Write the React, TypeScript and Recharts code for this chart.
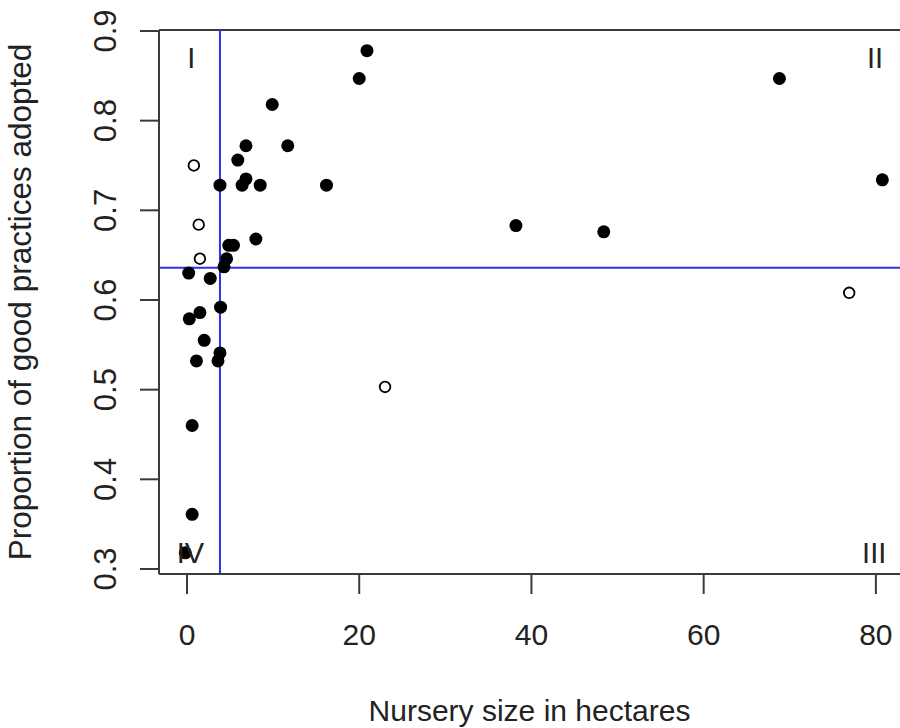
import React from 'react';
import { ScatterChart, Scatter, XAxis, YAxis, ReferenceLine, ReferenceDot, Label } from 'recharts';

// nurseries with filled markers
const filledX = [20.9, 20.0, 9.9, 6.85, 11.7, 5.9, 3.83, 6.4, 6.85, 8.5, 16.2, 8.0, 4.85, 5.4, 4.6, 4.3, 0.2, 2.7, 3.9, 1.5, 0.27, 2.0, 3.83, 3.6, 1.1, 0.6, 0.6, -0.2, 68.8, 38.2, 48.4, 80.75];
const filledY = [0.878, 0.847, 0.818, 0.772, 0.772, 0.756, 0.728, 0.728, 0.735, 0.728, 0.728, 0.668, 0.661, 0.661, 0.646, 0.637, 0.63, 0.624, 0.592, 0.586, 0.579, 0.555, 0.541, 0.532, 0.532, 0.46, 0.361, 0.318, 0.847, 0.683, 0.676, 0.734];

// nurseries with open markers
const openX = [0.8, 1.36, 1.5, 23.0, 76.9];
const openY = [0.75, 0.684, 0.646, 0.503, 0.608];

const xTicks = [0, 20, 40, 60, 80];
const yTicks = [0.3, 0.4, 0.5, 0.6, 0.7, 0.8, 0.9];

const splitX = 3.83;
const splitY = 0.636;

const quadLabels = ['I', 'II', 'III', 'IV'];
const quadX = [0.5, 79.9, 79.8, 0.4];
const quadY = [0.87, 0.87, 0.318, 0.318];

const X_DOMAIN: [number, number] = [-3.25, 82.8];
const Y_DOMAIN: [number, number] = [0.2944, 0.9011];

const FONT = '"Liberation Sans", Arial, sans-serif';
const TEXT = '#222';
const AXIS = '#3a3a3a';
const BLUE = '#2f2fef';

const filled = filledX.map((x, i) => ({ x, y: filledY[i] }));
const hollow = openX.map((x, i) => ({ x, y: openY[i] }));

const XTick = (props: any) => (
  <text x={props.x} y={props.y + 49} textAnchor="middle" fontSize={30} fontFamily={FONT} fill={TEXT}>
    {props.payload.value}
  </text>
);

const YTick = (props: any) => {
  const x = props.x - 22;
  return (
    <text
      x={x}
      y={props.y}
      transform={`rotate(-90, ${x}, ${props.y})`}
      textAnchor="middle"
      fontSize={31}
      fontFamily={FONT}
      fill={TEXT}
    >
      {props.payload.value.toFixed(1)}
    </text>
  );
};

const FilledDot = (props: any) => <circle cx={props.cx} cy={props.cy} r={6.5} fill="#000" />;
const OpenDot = (props: any) => (
  <circle cx={props.cx} cy={props.cy} r={5.3} fill="none" stroke="#000" strokeWidth={1.8} />
);

export default function App() {
  return (
    <div style={{ position: 'absolute', left: 0, top: 0, width: 900, height: 728, background: '#fff' }}>
      <ScatterChart width={900} height={728} margin={{ top: 30, right: 0, left: 39, bottom: 94 }}>
        <XAxis
          type="number"
          dataKey="x"
          domain={X_DOMAIN}
          ticks={xTicks}
          allowDataOverflow
          height={60}
          tickSize={20}
          tick={<XTick />}
          axisLine={{ stroke: AXIS, strokeWidth: 2 }}
          tickLine={{ stroke: AXIS, strokeWidth: 2 }}
        >
          <Label
            content={(p: any) => (
              <text
                x={p.viewBox.x + p.viewBox.width / 2}
                y={721}
                textAnchor="middle"
                fontSize={30}
                fontFamily={FONT}
                fill={TEXT}
              >
                Nursery size in hectares
              </text>
            )}
          />
        </XAxis>
        <YAxis
          type="number"
          dataKey="y"
          domain={Y_DOMAIN}
          ticks={yTicks}
          allowDataOverflow
          width={120}
          tickSize={19}
          tick={<YTick />}
          axisLine={{ stroke: AXIS, strokeWidth: 2 }}
          tickLine={{ stroke: AXIS, strokeWidth: 2 }}
        >
          <Label
            content={(p: any) => {
              const cy = p.viewBox.y + p.viewBox.height / 2;
              return (
                <text
                  x={31}
                  y={cy}
                  transform={`rotate(-90, 31, ${cy})`}
                  textAnchor="middle"
                  fontSize={31.5}
                  fontFamily={FONT}
                  fill={TEXT}
                >
                  Proportion of good practices adopted
                </text>
              );
            }}
          />
        </YAxis>
        <ReferenceLine y={Y_DOMAIN[1]} stroke={AXIS} strokeWidth={2} />
        <Scatter data={filled} shape={<FilledDot />} isAnimationActive={false} />
        <Scatter data={hollow} shape={<OpenDot />} isAnimationActive={false} />
        <ReferenceLine x={splitX} stroke={BLUE} strokeWidth={2} />
        <ReferenceLine y={splitY} stroke={BLUE} strokeWidth={2} />
        {quadLabels.map((lab, i) => (
          <ReferenceDot
            key={lab}
            x={quadX[i]}
            y={quadY[i]}
            r={0}
            shape={(p: any) => (
              <text x={p.cx} y={p.cy} dy="0.36em" textAnchor="middle" fontSize={29} fontFamily={FONT} fill={TEXT}>
                {lab}
              </text>
            )}
          />
        ))}
      </ScatterChart>
    </div>
  );
}
